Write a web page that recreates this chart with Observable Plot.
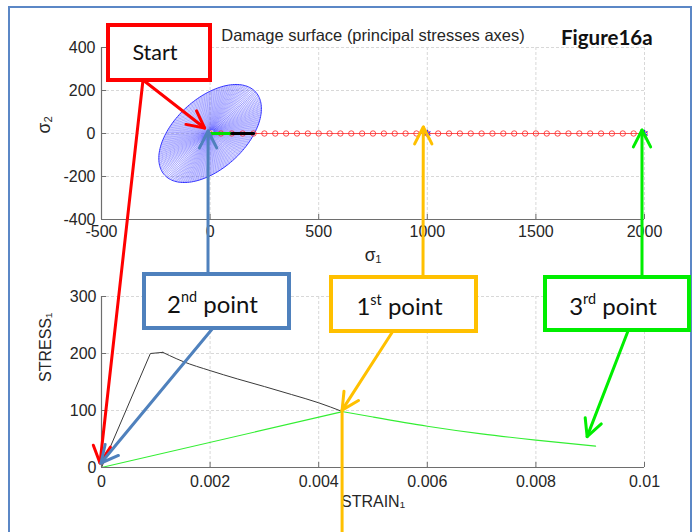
<!DOCTYPE html>
<html>
<head>
<meta charset="utf-8">
<script src="https://cdn.jsdelivr.net/npm/d3@7"></script>
<script src="https://cdn.jsdelivr.net/npm/@observablehq/plot@0.6"></script>
<style>
  html, body { margin: 0; padding: 0; background: #fff; }
  #fig { position: relative; width: 693px; height: 532px; overflow: hidden; background: #fff; }
  #fig > svg { position: absolute; left: 0; }
</style>
</head>
<body>
<div id="fig"></div>
<script>
// ---- Principal stress space (sigma_1, sigma_2) ----
// loading path along the sigma_1 axis (sigma_2 = 0 throughout)
const pathSigma1 = [0, 50, 100, 150, 200, 250, 300, 350, 400, 450, 500, 550, 600, 650, 700,
  750, 800, 850, 900, 950, 1000, 1050, 1100, 1150, 1200, 1250, 1300, 1350, 1400, 1450, 1500,
  1550, 1600, 1650, 1700, 1750, 1800, 1850, 1900, 1950, 2000];
const elasticSigma1 = [0, 100];      // elastic stretch of the path
const damagedSigma1 = [100, 200];    // stretch where damage grows
const markedSigma1 = [1000, 2000];   // states marked with an asterisk
// damage surface: ellipse centred on the origin, semi-axes in MPa, tilt in degrees
const surfaceSemiMajor = 285;
const surfaceSemiMinor = 163;
const surfaceTilt = 43;
const sigma1Ticks = [-500, 0, 500, 1000, 1500, 2000];
const sigma2Ticks = [-400, -200, 0, 200, 400];

// ---- Uniaxial response ----
const monotonicStrain = [0, 0.0009, 0.00113, 0.00125, 0.0015, 0.002, 0.0025, 0.003, 0.0035, 0.004, 0.00444];
const monotonicStress = [0, 200, 202, 196.5, 186, 170, 155.5, 142, 128, 113.5, 98];
const reloadStrain = [0, 0.00444];
const reloadStress = [0, 98];
const softenStrain = [0.00444, 0.005, 0.006, 0.007, 0.008, 0.0091];
const softenStress = [98, 88.5, 72.5, 59, 48, 37.5];
const strainTicks = [0, 0.002, 0.004, 0.006, 0.008, 0.01];
const strainTickLabels = ["0", "0.002", "0.004", "0.006", "0.008", "0.01"];
const stressTicks = [0, 100, 200, 300];

// ---- shared styling ----
const W = 693;
const axisColor = "#6e6e6e";
const gridStyle = {stroke: "#d8d8d8", strokeDasharray: "3,2", strokeWidth: 1};
const textFont = "'Liberation Sans', Arial, Helvetica, sans-serif";
const noteFont = "Lato, 'Open Sans', sans-serif";

// mesh of the damage surface: concentric rings plus radial spokes
const rad = surfaceTilt * Math.PI / 180;
function surfacePoint(level, t) {
  const u = surfaceSemiMajor * level * Math.cos(t);
  const v = surfaceSemiMinor * level * Math.sin(t);
  return [u * Math.cos(rad) - v * Math.sin(rad), u * Math.sin(rad) + v * Math.cos(rad)];
}
const ringLevels = d3.range(0.07, 1.0001, 0.026);
const ringPts = [];
ringLevels.forEach((lv, k) => {
  for (let i = 0; i <= 160; i++) {
    const [x, y] = surfacePoint(lv, 2 * Math.PI * i / 160);
    ringPts.push({ring: k, x, y});
  }
});
const spokes = d3.range(0, 120).map(i => {
  const t = 2 * Math.PI * i / 120;
  const [x1, y1] = surfacePoint(ringLevels[0], t);
  const [x2, y2] = surfacePoint(1, t);
  return {x1, y1, x2, y2};
});
const outline = d3.range(0, 161).map(i => {
  const [x, y] = surfacePoint(1, 2 * Math.PI * i / 160);
  return {x, y};
});

// inward tick length expressed in data units
function tickLen(domain, rangePx) { return (domain[1] - domain[0]) * 5 / rangePx; }

// ---- top panel: damage surface ----
const topXDomain = [-500, 2000], topYDomain = [-400, 400];
const topPlot = Plot.plot({
  width: W, height: 268,
  marginLeft: 101, marginRight: 49, marginTop: 47, marginBottom: 49,
  style: {background: "transparent", fontFamily: textFont, fontSize: "16px", color: "#262626", overflow: "visible"},
  x: {domain: topXDomain},
  y: {domain: topYDomain},
  marks: [
    Plot.ruleX(sigma1Ticks.slice(1), gridStyle),
    Plot.ruleY(sigma2Ticks.slice(1), gridStyle),
    Plot.line(ringPts, {x: "x", y: "y", z: "ring", stroke: "#2020ff", strokeWidth: 0.4, strokeOpacity: 0.75}),
    Plot.link(spokes, {x1: "x1", y1: "y1", x2: "x2", y2: "y2", stroke: "#2020ff", strokeWidth: 0.3, strokeOpacity: 0.6}),
    Plot.line(outline, {x: "x", y: "y", stroke: "#3030ff", strokeWidth: 1}),
    Plot.line(pathSigma1, {x: d => d, y: 0, stroke: "#ff3030", strokeWidth: 0.8}),
    Plot.dot(pathSigma1, {x: d => d, y: 0, r: 2.7, stroke: "#ff2020", strokeWidth: 0.8, fill: "none"}),
    Plot.line(elasticSigma1, {x: d => d, y: 0, stroke: "#00e000", strokeWidth: 3.2}),
    Plot.line(damagedSigma1, {x: d => d, y: 0, stroke: "#000000", strokeWidth: 3.2}),
    Plot.dot(markedSigma1, {x: d => d, y: 0, symbol: "asterisk", r: 3.5, stroke: "#2020ff", strokeWidth: 1}),
    // axes (ticks point inward)
    Plot.ruleY([topYDomain[0]], {stroke: axisColor, strokeWidth: 1.2}),
    Plot.ruleX([topXDomain[0]], {stroke: axisColor, strokeWidth: 1.2}),
    Plot.ruleX(sigma1Ticks, {x: d => d, y1: topYDomain[0], y2: topYDomain[0] + tickLen(topYDomain, 172), stroke: axisColor}),
    Plot.ruleY(sigma2Ticks, {y: d => d, x1: topXDomain[0], x2: topXDomain[0] + tickLen(topXDomain, 543), stroke: axisColor}),
    Plot.axisX(sigma1Ticks, {tickSize: 0, tickPadding: 6, tickFormat: d => String(d), label: null, fontSize: 16}),
    Plot.axisY(sigma2Ticks, {tickSize: 0, tickPadding: 6, tickFormat: d => String(d), label: null, fontSize: 16}),
    Plot.text(["σ₁"], {frameAnchor: "bottom", dy: 41, fontSize: 17.5}),
    Plot.text(["σ₂"], {frameAnchor: "left", dx: -57, rotate: -90, fontSize: 17.5}),
    Plot.text(["Damage surface (principal stresses axes)"], {frameAnchor: "top", dy: -18, fontSize: 16.5})
  ]
});
topPlot.style.top = "0px";

// ---- bottom panel: stress-strain response ----
const botXDomain = [0, 0.01], botYDomain = [0, 300];
const monotonic = monotonicStrain.map((e, i) => ({e, s: monotonicStress[i]}));
const reload = reloadStrain.map((e, i) => ({e, s: reloadStress[i]}));
const soften = softenStrain.map((e, i) => ({e, s: softenStress[i]}));
const bottomPlot = Plot.plot({
  width: W, height: 264,
  marginLeft: 101, marginRight: 49, marginTop: 28, marginBottom: 65,
  style: {background: "transparent", fontFamily: textFont, fontSize: "16px", color: "#262626", overflow: "visible"},
  x: {domain: botXDomain},
  y: {domain: botYDomain},
  marks: [
    Plot.ruleX(strainTicks.slice(1), gridStyle),
    Plot.ruleY(stressTicks.slice(1), gridStyle),
    Plot.line(monotonic.slice(0, 3), {x: "e", y: "s", stroke: "#3a3a3a", strokeWidth: 1}),
    Plot.line(monotonic.slice(2), {x: "e", y: "s", stroke: "#3a3a3a", strokeWidth: 1, curve: "monotone-x"}),
    Plot.line(reload, {x: "e", y: "s", stroke: "#33ee33", strokeWidth: 1.1}),
    Plot.line(soften, {x: "e", y: "s", stroke: "#33ee33", strokeWidth: 1.1, curve: "monotone-x"}),
    Plot.ruleY([botYDomain[0]], {stroke: axisColor, strokeWidth: 1.2}),
    Plot.ruleX([botXDomain[0]], {stroke: axisColor, strokeWidth: 1.2}),
    Plot.ruleX(strainTicks, {x: d => d, y1: botYDomain[0], y2: botYDomain[0] + tickLen(botYDomain, 171), stroke: axisColor}),
    Plot.ruleY(stressTicks, {y: d => d, x1: botXDomain[0], x2: botXDomain[0] + tickLen(botXDomain, 543), stroke: axisColor}),
    Plot.axisX(strainTicks, {tickSize: 0, tickPadding: 8, tickFormat: (d, i) => strainTickLabels[i], label: null, fontSize: 16}),
    Plot.axisY(stressTicks, {tickSize: 0, tickPadding: 5, tickFormat: d => String(d), label: null, fontSize: 16}),
    Plot.text(["STRAIN₁"], {frameAnchor: "bottom", dy: 39, fontSize: 16}),
    Plot.text(["STRESS₁"], {frameAnchor: "left", dx: -56, rotate: -90, fontSize: 16})
  ]
});
bottomPlot.style.top = "268px";

const fig = document.getElementById("fig");
fig.append(topPlot, bottomPlot);

// ---- annotation layer ----
const red = "#ff0000", blue = "#4f81bd", gold = "#ffc000", lime = "#00ee00";
const panels = {
  top: {plot: topPlot, dy: 0},
  bottom: {plot: bottomPlot, dy: 268}
};
function px(panel, [x, y]) {
  const p = panels[panel];
  return [p.plot.scale("x").apply(x), p.plot.scale("y").apply(y) + p.dy];
}

const callouts = [
  {text: "Start", sup: "", rest: "", color: red, x: 108, y: 25, w: 102, h: 55, size: 21.5, base: 35},
  {text: "2", sup: "nd", rest: " point", color: blue, x: 144, y: 274, w: 145, h: 54, size: 24, base: 38.5},
  {text: "1", sup: "st", rest: " point", color: gold, x: 331, y: 277, w: 145, h: 54, size: 24, base: 38},
  {text: "3", sup: "rd", rest: " point", color: lime, x: 545, y: 277, w: 144, h: 53, size: 24, base: 37.5}
];
const pointers = [
  {from: [143, 80], panel: "top", at: [pathSigma1[0], 0], nudge: [-5, -5], color: red},
  {from: [143, 80], panel: "bottom", at: [monotonicStrain[0], monotonicStress[0]], nudge: [-1, -4], color: red},
  {from: [208, 274], panel: "top", at: [pathSigma1[0], 0], nudge: [-1.5, -2], color: blue},
  {from: [213, 328], panel: "bottom", at: [monotonicStrain[0], monotonicStress[0]], nudge: [0, -4], color: blue},
  {from: [423, 277], panel: "top", at: [markedSigma1[0], 0], nudge: [-3.5, -6], color: gold},
  {from: [393, 331], panel: "bottom", at: [reloadStrain[1], reloadStress[1]], nudge: [0, -1], color: gold, tail: true},
  {from: [642, 277], panel: "top", at: [markedSigma1[1], 0], nudge: [-2, -3], color: lime},
  {from: [628, 331], panel: "bottom", at: [softenStrain[5], softenStress[5]], nudge: [-8, -9], color: lime}
];

const svg = d3.select(fig).append("svg")
  .attr("width", W).attr("height", 532)
  .style("top", "0px")
  .style("pointer-events", "none");

svg.append("rect")
  .attr("x", 9).attr("y", 7).attr("width", 682).attr("height", 560)
  .attr("fill", "none").attr("stroke", "#5b87c6").attr("stroke-width", 2);

const headLen = 19, headAngle = 27 * Math.PI / 180;
for (const p of pointers) {
  const [tx0, ty0] = px(p.panel, p.at);
  const tx = tx0 + p.nudge[0], ty = ty0 + p.nudge[1];
  const [fx, fy] = p.from;
  const g = svg.append("g").attr("stroke", p.color).attr("stroke-width", 3).attr("fill", "none")
    .attr("stroke-linecap", "round").attr("stroke-linejoin", "round");
  g.append("line").attr("x1", fx).attr("y1", fy).attr("x2", tx).attr("y2", ty);
  const back = Math.atan2(fy - ty, fx - tx);
  const w1 = [tx + headLen * Math.cos(back - headAngle), ty + headLen * Math.sin(back - headAngle)];
  const w2 = [tx + headLen * Math.cos(back + headAngle), ty + headLen * Math.sin(back + headAngle)];
  g.append("path").attr("d", `M${w1}L${tx},${ty}L${w2}`);
  if (p.tail) g.append("line").attr("x1", tx).attr("y1", ty).attr("x2", tx).attr("y2", 540);
}

for (const c of callouts) {
  svg.append("rect")
    .attr("x", c.x).attr("y", c.y).attr("width", c.w).attr("height", c.h)
    .attr("fill", "#fff").attr("stroke", c.color).attr("stroke-width", 4);
  const t = svg.append("text")
    .attr("x", c.x + c.w / 2 - 4).attr("y", c.y + c.base)
    .attr("text-anchor", "middle")
    .attr("font-family", noteFont).attr("font-size", c.size).attr("fill", "#111");
  t.append("tspan").text(c.text);
  if (c.sup) {
    t.append("tspan").attr("font-size", c.size * 0.6).attr("dy", -c.size * 0.42).text(c.sup);
    t.append("tspan").attr("dy", c.size * 0.42).text(c.rest);
  }
}

svg.append("text")
  .attr("x", 561).attr("y", 45)
  .attr("font-family", noteFont).attr("font-weight", 700).attr("font-size", 20.5).attr("fill", "#111")
  .text("Figure16a");
</script>
</body>
</html>
